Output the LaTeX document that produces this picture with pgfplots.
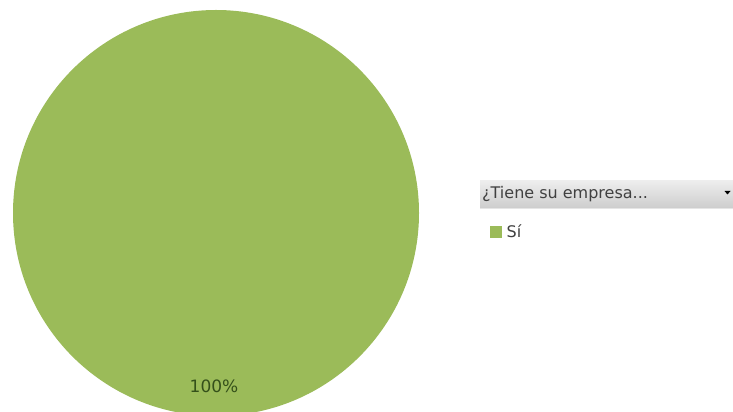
\documentclass[border=0pt]{standalone}
\usepackage{pgfplots}
\usepackage{pgfplotstable}
\pgfplotsset{compat=1.18}
\usepackage{fontspec}
\setmainfont{DejaVu Sans}
\definecolor{piegreen}{HTML}{9BBB59}
\definecolor{labgreen}{HTML}{34501A}
\definecolor{legtext}{HTML}{404040}
\pgfplotstableread{
label value
Si 100
}\piedata
\begin{document}
\begin{tikzpicture}
\clip (0,0) rectangle (733bp,412bp);
\begin{axis}[
  at={(0,0)}, anchor=south west,
  width=733bp, height=412bp, scale only axis,
  xmin=0, xmax=733, ymin=0, ymax=412,
  hide axis, clip=true,
  /pgf/number format/assume math mode=true,
  legend style={at={(axis cs:490,180.5)}, anchor=west, draw=none, fill=none,
    font=\fontsize{16bp}{18bp}\selectfont\color{legtext}, inner sep=0pt,
    legend cell align=left,
    nodes={inner sep=0pt}},
]
\pgfplotstablegetelem{0}{value}\of\piedata
\let\pievalue\pgfplotsretval
% full pie: one slice of 100 %
\fill[piegreen] (axis cs:216,199) circle[radius=203];
\addlegendimage{legend image code/.code={\fill[piegreen] (0bp,-5.5bp) rectangle (11bp,5.5bp);}}
\addlegendentry{\hspace{5bp}Sí}
\node[font=\fontsize{17bp}{19bp}\selectfont, text=labgreen] at (axis cs:214,26) {\pgfmathprintnumber[fixed,precision=0,assume math mode=true]{\pievalue}\%};
% legend header bar
\shade[top color=white!93!black, bottom color=white!80!black] (axis cs:480,203) rectangle (axis cs:733,231);
\draw[white!90!black] (axis cs:480,203.5) -- (axis cs:733,203.5);
\node[anchor=west, font=\fontsize{16bp}{18bp}\selectfont, text=legtext, inner sep=0pt] at (axis cs:482,217.5) {¿Tiene su empresa...};
\fill[black] (axis cs:724.5,221) -- (axis cs:730.5,221) -- (axis cs:727.5,217.5) -- cycle;
\end{axis}
\end{tikzpicture}
\end{document}
